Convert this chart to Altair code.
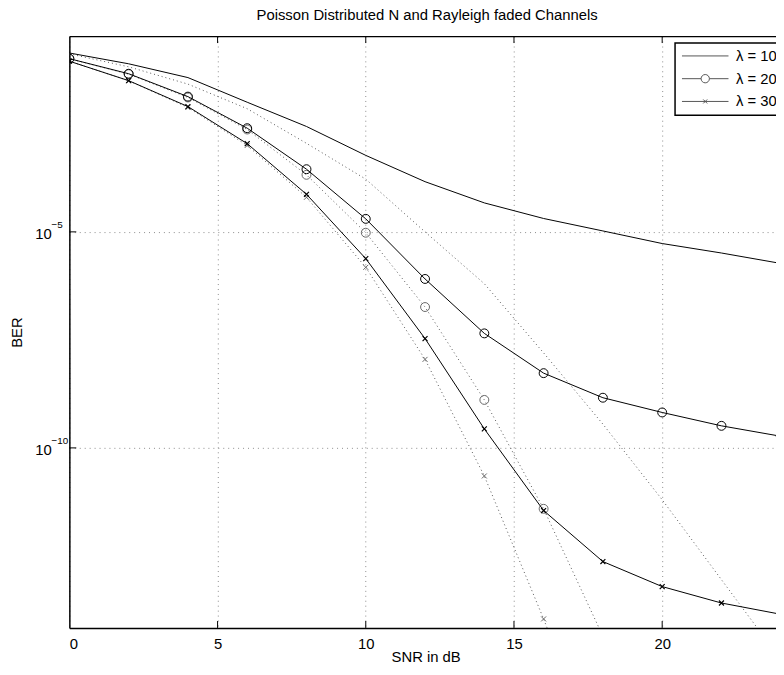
import altair as alt
import pandas as pd

# ---------------- data ----------------
SNR = [0, 2, 4, 6, 8, 10, 12, 14, 16, 18, 20, 22, 24]
BER_L10 = [1.38e-1, 7.76e-2, 3.72e-2, 1.00e-2, 2.75e-3, 5.89e-4, 1.45e-4,
           4.68e-5, 2.04e-5, 1.05e-5, 5.37e-6, 3.24e-6, 1.86e-6]
BER_L20 = [1.02e-1, 4.57e-2, 1.35e-2, 2.51e-3, 2.82e-4, 2.00e-5, 8.13e-7,
           4.47e-8, 5.37e-9, 1.45e-9, 6.61e-10, 3.24e-10, 1.86e-10]
BER_L30 = [8.91e-2, 3.16e-2, 7.94e-3, 1.10e-3, 7.41e-5, 2.40e-6, 3.39e-8,
           2.75e-10, 3.55e-12, 2.34e-13, 6.17e-14, 2.57e-14, 1.41e-14]

# dotted curves
BER_L10_DOT = [1.32e-1, 6.61e-2, 2.63e-2, 7.08e-3, 1.12e-3, 1.66e-4, 1.00e-5,
               6.31e-7, 1.58e-8, 3.55e-10, 6.31e-12, 8.91e-14, 1.26e-15]
SNR_DOT = [0, 2, 4, 6, 8, 10, 12, 14, 16, 18]
BER_L20_DOT = [1.02e-1, 4.47e-2, 1.29e-2, 2.34e-3, 2.09e-4, 9.55e-6, 1.82e-7,
               1.29e-9, 3.89e-12, 4.37e-15]
BER_L30_DOT = [8.91e-2, 3.16e-2, 7.59e-3, 1.00e-3, 6.31e-5, 1.51e-6, 1.12e-8,
               2.24e-11, 1.10e-14, 3.16e-18]

LEGEND_LABELS = ["λ = 10", "λ = 20", "λ = 30"]
X_TICKS = [0, 5, 10, 15, 20]
X_INNER_TICKS = [5, 10, 15, 20]
Y_TICKS = [1e-5, 1e-10]
Y_EXPONENTS = ["−5", "−10"]

TITLE = "Poisson Distributed N and Rayleigh faded Channels"
X_TITLE = "SNR in dB"
Y_TITLE = "BER"

# ---------------- tables ----------------
solid_df = pd.concat([
    pd.DataFrame({"snr": SNR, "ber": BER_L10, "series": LEGEND_LABELS[0]}),
    pd.DataFrame({"snr": SNR, "ber": BER_L20, "series": LEGEND_LABELS[1]}),
    pd.DataFrame({"snr": SNR, "ber": BER_L30, "series": LEGEND_LABELS[2]}),
], ignore_index=True)
dot_df = pd.concat([
    pd.DataFrame({"snr": SNR, "ber": BER_L10_DOT, "series": LEGEND_LABELS[0]}),
    pd.DataFrame({"snr": SNR_DOT, "ber": BER_L20_DOT, "series": LEGEND_LABELS[1]}),
    pd.DataFrame({"snr": SNR_DOT, "ber": BER_L30_DOT, "series": LEGEND_LABELS[2]}),
], ignore_index=True)
xtick_df = pd.DataFrame({"snr": X_INNER_TICKS})
ytick_df = pd.DataFrame({"ber": Y_TICKS, "exp": Y_EXPONENTS})
legend_df = pd.DataFrame({"series": LEGEND_LABELS})

# ---------------- styling ----------------
FONT = "Liberation Sans"
W, H = 714, 598
X_PATH = "M-1,-1L1,1M-1,1L1,-1"
LEGEND_SYMBOLS = [
    "M-4.7,0L4.7,0",
    "M-4.7,0L-0.84,0M0.84,0L4.7,0M-0.84,0A0.84,0.84 0 1,0 0.84,0A0.84,0.84 0 1,0 -0.84,0",
    "M-4.7,0L4.7,0M-0.4,-0.4L0.4,0.4M-0.4,0.4L0.4,-0.4",
]

xscale = alt.Scale(domain=[0, 23.84], nice=False, zero=False)
yscale = alt.Scale(type="log", domain=[6.8e-15, 0.339], nice=False)

x_axis = alt.Axis(values=X_TICKS, grid=True, gridColor="#8c8c8c", gridDash=[1, 4],
                  gridWidth=1, domain=True, domainColor="black", domainWidth=1.5,
                  ticks=True, tickSize=0, labelFontSize=15, labelPadding=9,
                  labelColor="black", labelFont=FONT, title=X_TITLE,
                  titleFontSize=15, titleFontWeight="normal", titleColor="black",
                  titleFont=FONT, titleX=360, titleY=34, titleAlign="center",
                  titleBaseline="alphabetic")
y_axis = alt.Axis(values=Y_TICKS, grid=True, gridColor="#8c8c8c", gridDash=[1, 4],
                  gridWidth=1, domain=True, domainColor="black", domainWidth=1.5,
                  ticks=True, tickSize=0, labelFontSize=15, labelPadding=35,
                  labelAlign="left", labelBaseline="middle", labelOffset=1.5,
                  labelColor="black", labelFont=FONT, labelExpr="'10'",
                  title=Y_TITLE, titleFontSize=15, titleFontWeight="normal",
                  titleColor="black", titleFont=FONT, titleX=-53, titleY=299,
                  titleAngle=270, titleAlign="center", titleBaseline="middle")
top_axis = alt.Axis(orient="top", labels=False, ticks=False, grid=False,
                    domain=True, domainColor="black", domainWidth=1.5,
                    title=TITLE, titleFontSize=15, titleFontWeight="normal",
                    titleColor="black", titleFont=FONT, titleX=361, titleY=-17,
                    titleAlign="center", titleBaseline="alphabetic", titleAngle=0)

xn = lambda: alt.X("snr:Q", scale=xscale, axis=None)
yn = lambda: alt.Y("ber:Q", scale=yscale)

dotted = alt.Chart(dot_df).mark_line(color="#555555", strokeWidth=1,
                                     strokeDash=[1, 3], clip=True).encode(
    x=xn(), y=yn(), detail="series:N")

sim_circles = alt.Chart(dot_df[dot_df.series == LEGEND_LABELS[1]]).mark_point(
    shape="circle", size=81, filled=False, color="#666666", strokeWidth=1,
    opacity=1, clip=True).encode(x=xn(), y=yn())
sim_x = alt.Chart(dot_df[dot_df.series == LEGEND_LABELS[2]]).mark_point(
    shape=X_PATH, size=25, filled=False, color="#666666", strokeWidth=1,
    opacity=1, clip=True).encode(x=xn(), y=yn())

solid = alt.Chart(solid_df).mark_line(color="black", strokeWidth=1, clip=True).encode(
    x=alt.X("snr:Q", scale=xscale, axis=x_axis),
    y=alt.Y("ber:Q", scale=yscale, axis=y_axis),
    detail="series:N")

solid_circles = alt.Chart(solid_df[solid_df.series == LEGEND_LABELS[1]]).mark_point(
    shape="circle", size=81, filled=False, color="black", strokeWidth=1,
    opacity=1, clip=True).encode(x=xn(), y=yn())
solid_x = alt.Chart(solid_df[solid_df.series == LEGEND_LABELS[2]]).mark_point(
    shape=X_PATH, size=25, filled=False, color="black", strokeWidth=1.2,
    opacity=1, clip=True).encode(x=xn(), y=yn())

top_ticks = alt.Chart(xtick_df).mark_rule(color="black", strokeWidth=1).encode(
    x=alt.X("snr:Q", scale=xscale, axis=top_axis),
    y=alt.value(0), y2=alt.value(7))
bottom_ticks = alt.Chart(xtick_df).mark_rule(color="black", strokeWidth=1).encode(
    x=xn(), y=alt.value(H - 7), y2=alt.value(H))
left_ticks = alt.Chart(ytick_df).mark_rule(color="black", strokeWidth=1).encode(
    y=yn(), x=alt.value(0), x2=alt.value(7))
exponents = alt.Chart(ytick_df).mark_text(
    align="left", baseline="middle", dy=-7, fontSize=10, font=FONT,
    color="black").encode(y=yn(), x=alt.value(-18), text="exp:N")

legend_layer = alt.Chart(legend_df).mark_point(
    filled=False, color="#555555", opacity=1, clip=True).encode(
    x=alt.value(-200), y=alt.value(300),
    shape=alt.Shape("series:N",
                    scale=alt.Scale(domain=LEGEND_LABELS, range=LEGEND_SYMBOLS),
                    legend=alt.Legend(title=None, orient="none", legendX=612,
                                      legendY=7, symbolSize=100,
                                      symbolStrokeColor="#555555",
                                      symbolFillColor="transparent",
                                      symbolStrokeWidth=1, symbolOpacity=1,
                                      symbolOffset=17.5, labelOffset=23.5,
                                      labelFontSize=15, labelFont=FONT,
                                      labelColor="black", rowPadding=7,
                                      strokeColor="black", fillColor="white",
                                      padding=5.5, cornerRadius=0,
                                      labelExpr="datum.label + '\u00a0\u00a0\u00a0'")))

chart = alt.layer(
    dotted, sim_circles, sim_x, solid, solid_circles, solid_x,
    top_ticks, bottom_ticks, left_ticks, exponents, legend_layer
).properties(
    width=W, height=H,
    padding={"left": 62, "top": 25, "right": 0, "bottom": 34},
    autosize=alt.AutoSizeParams(type="none"),
).resolve_axis(x="independent").configure(font=FONT).configure_view(
    stroke=None
).configure_legend(strokeWidth=1.5)

chart.save("out.html", embed_options={"renderer": "svg", "actions": False})
